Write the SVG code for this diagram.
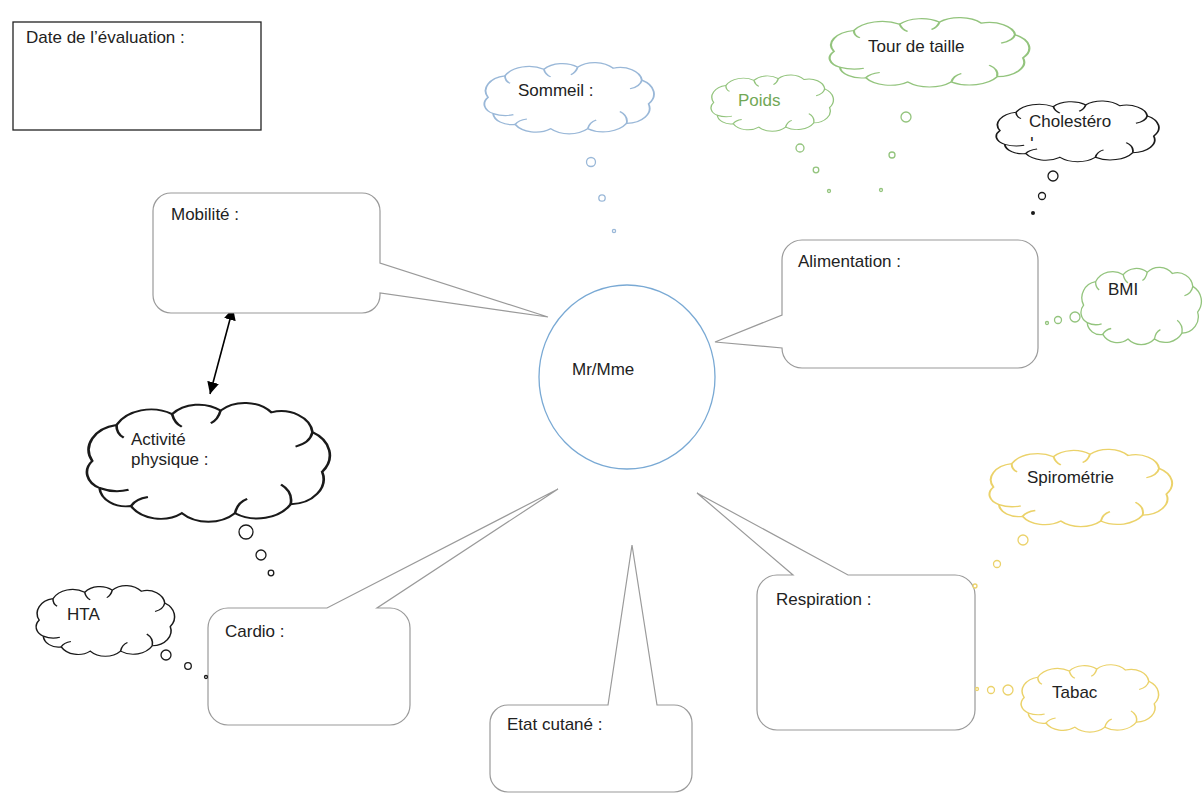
<svg xmlns="http://www.w3.org/2000/svg" width="1203" height="802" viewBox="0 0 1203 802">
<style>
text{font-family:"Liberation Sans",Arial,sans-serif;font-size:17px;fill:#222}
.callout{fill:#fff;stroke:#9a9a9a;stroke-width:1.2}
.cl{fill:#fff;stroke-width:1.1;vector-effect:non-scaling-stroke}
.curl{fill:none;stroke-width:1.1;vector-effect:non-scaling-stroke}
.blue{stroke:#9ab8d8}
.green{stroke:#93c47d}
.yellow{stroke:#ebd26a}
.black{stroke:#1a1a1a}
.bub{fill:#fff;stroke-width:1.3}
</style>
<defs>
<path id="cloud" d="M3,30 A14,14 0 0 1 13,10 A16,16 0 0 1 36,4 A14,14 0 0 1 56,2 A14,14 0 0 1 77,3 A13,13 0 0 1 94,14 A15,15 0 0 1 98,36 A14,14 0 0 1 85,54 A16,16 0 0 1 62,59 A15,15 0 0 1 40,59 A14,14 0 0 1 19,55 A11,11 0 0 1 6,45 A10,10 0 0 1 3,30 Z"/>
<path id="curls" d="M6,45 Q12,48 18,46 M36,4 Q37,9 40,11 M56,2 Q55,7 52,9 M94,14 Q93,20 87,22 M85,54 Q86,47 81,43 M62,59 Q63,53 67,51 M19,55 Q21,51 26,50 M13,10 Q13,15 16,17"/>
<marker id="ah" markerUnits="userSpaceOnUse" markerWidth="12" markerHeight="12" refX="10" refY="5" orient="auto-start-reverse" viewBox="0 0 10 10">
<path d="M0,0 L10,5 L0,10 Z" fill="#000"/>
</marker>
<clipPath id="cholClip"><rect x="1020" y="134" width="30" height="7"/></clipPath>
</defs>

<g id="connectors">
<line x1="233" y1="308" x2="210" y2="394" stroke="#000" stroke-width="1.6" marker-start="url(#ah)" marker-end="url(#ah)"/>
</g>

<g id="date">
<rect x="13" y="22" width="248" height="108" fill="#fff" stroke="#222" stroke-width="1.3"/>
<text x="26" y="43">Date de l’évaluation :</text>
</g>

<g id="center">
<ellipse cx="627" cy="377" rx="88" ry="92" fill="#fff" stroke="#79a9d4" stroke-width="1.3"/>
<text x="572" y="375">Mr/Mme</text>
</g>

<g id="mobilite">
<path class="callout" d="M171,193 H362 A18,18 0 0 1 380,211 V263 L548,317 L380,293 V295 A18,18 0 0 1 362,313 H171 A18,18 0 0 1 153,295 V211 A18,18 0 0 1 171,193 Z"/>
<text x="171" y="220">Mobilité :</text>
</g>

<g id="alimentation">
<path class="callout" d="M802,240 H1018 A20,20 0 0 1 1038,260 V348 A20,20 0 0 1 1018,368 H802 A20,20 0 0 1 782,348 L715,342 L782,315 V260 A20,20 0 0 1 802,240 Z"/>
<text x="798" y="267">Alimentation :</text>
</g>

<g id="cardio">
<path class="callout" d="M228,608 H327 L558,489 L377,608 H390 A20,20 0 0 1 410,628 V705 A20,20 0 0 1 390,725 H228 A20,20 0 0 1 208,705 V628 A20,20 0 0 1 228,608 Z"/>
<text x="225" y="637">Cardio :</text>
</g>

<g id="etat-cutane">
<path class="callout" d="M508,705 H608 L632,545 L657,705 H674 A18,18 0 0 1 692,723 V774 A18,18 0 0 1 674,792 H508 A18,18 0 0 1 490,774 V723 A18,18 0 0 1 508,705 Z"/>
<text x="507" y="730">Etat cutané :</text>
</g>

<g id="respiration">
<path class="callout" d="M777,575 H793 L697,493 L848,575 H955 A20,20 0 0 1 975,595 V710 A20,20 0 0 1 955,730 H777 A20,20 0 0 1 757,710 V595 A20,20 0 0 1 777,575 Z"/>
<text x="776" y="605">Respiration :</text>
</g>

<g id="sommeil">
<g transform="translate(483,65) scale(1.69,1.08)">
<use href="#cloud" class="cl blue"/><use href="#curls" class="curl blue"/>
</g>
<circle class="bub blue" cx="591" cy="162" r="4.5"/>
<circle class="bub blue" cx="602" cy="198" r="3.2"/>
<circle class="bub blue" cx="614" cy="231" r="1.6"/>
<text x="518" y="96">Sommeil :</text>
</g>

<g id="tour-de-taille">
<g transform="translate(828,20) scale(1.99,1.05)">
<use href="#cloud" class="cl green"/><use href="#curls" class="curl green"/>
</g>
<circle class="bub green" cx="906" cy="117" r="5"/>
<circle class="bub green" cx="892" cy="155" r="3"/>
<circle class="bub green" cx="881" cy="190" r="1.5"/>
<text x="868" y="52">Tour de taille</text>
</g>

<g id="poids">
<g transform="translate(710,77) scale(1.22,0.85)">
<use href="#cloud" class="cl green"/><use href="#curls" class="curl green"/>
</g>
<circle class="bub green" cx="800" cy="148" r="4"/>
<circle class="bub green" cx="816" cy="170" r="2.8"/>
<circle class="bub green" cx="829" cy="191" r="1.5"/>
<text x="738" y="106" style="fill:#72a856">Poids</text>
</g>

<g id="cholesterol">
<g transform="translate(995,103) scale(1.62,0.92)">
<use href="#cloud" class="cl black"/><use href="#curls" class="curl black"/>
</g>
<circle class="bub black" cx="1053" cy="176" r="5"/>
<circle class="bub black" cx="1042" cy="196" r="3.5"/>
<circle cx="1033" cy="213" r="2" fill="#1a1a1a"/>
<text x="1029" y="127">Cholestéro</text>
<text x="1030" y="149" clip-path="url(#cholClip)">l</text>
</g>

<g id="bmi">
<g transform="translate(1080,270) scale(1.2,1.17)">
<use href="#cloud" class="cl green"/><use href="#curls" class="curl green"/>
</g>
<circle class="bub green" cx="1075" cy="317" r="5"/>
<circle class="bub green" cx="1058" cy="320" r="3.5"/>
<circle class="bub green" cx="1047" cy="323" r="1.5"/>
<text x="1108" y="295">BMI</text>
</g>

<g id="activite">
<g transform="translate(85,407) scale(2.42,1.8)">
<use href="#cloud" class="cl black"/><use href="#curls" class="curl black"/>
</g>
<circle class="bub black" cx="246" cy="532" r="7"/>
<circle class="bub black" cx="261" cy="555" r="5"/>
<circle class="bub black" cx="271" cy="573" r="2.8"/>
<text x="131" y="445">Activité</text>
<text x="131" y="465">physique :</text>
</g>

<g id="hta">
<g transform="translate(35,588) scale(1.38,1.07)">
<use href="#cloud" class="cl black"/><use href="#curls" class="curl black"/>
</g>
<circle class="bub black" cx="166" cy="655" r="5"/>
<circle class="bub black" cx="188" cy="666" r="3.3"/>
<circle class="bub black" cx="206" cy="677" r="1.5"/>
<text x="67" y="620">HTA</text>
</g>

<g id="spirometrie">
<g transform="translate(988,452) scale(1.82,1.17)">
<use href="#cloud" class="cl yellow"/><use href="#curls" class="curl yellow"/>
</g>
<circle class="bub yellow" cx="1023" cy="540" r="5"/>
<circle class="bub yellow" cx="997" cy="564" r="3.5"/>
<circle class="bub yellow" cx="975" cy="586" r="2"/>
<text x="1027" y="483">Spirométrie</text>
</g>

<g id="tabac">
<g transform="translate(1020,667) scale(1.37,1.02)">
<use href="#cloud" class="cl yellow"/><use href="#curls" class="curl yellow"/>
</g>
<circle class="bub yellow" cx="1008" cy="690" r="5"/>
<circle class="bub yellow" cx="991" cy="690" r="3.5"/>
<circle class="bub yellow" cx="977" cy="689" r="1.5"/>
<text x="1052" y="698">Tabac</text>
</g>
</svg>
